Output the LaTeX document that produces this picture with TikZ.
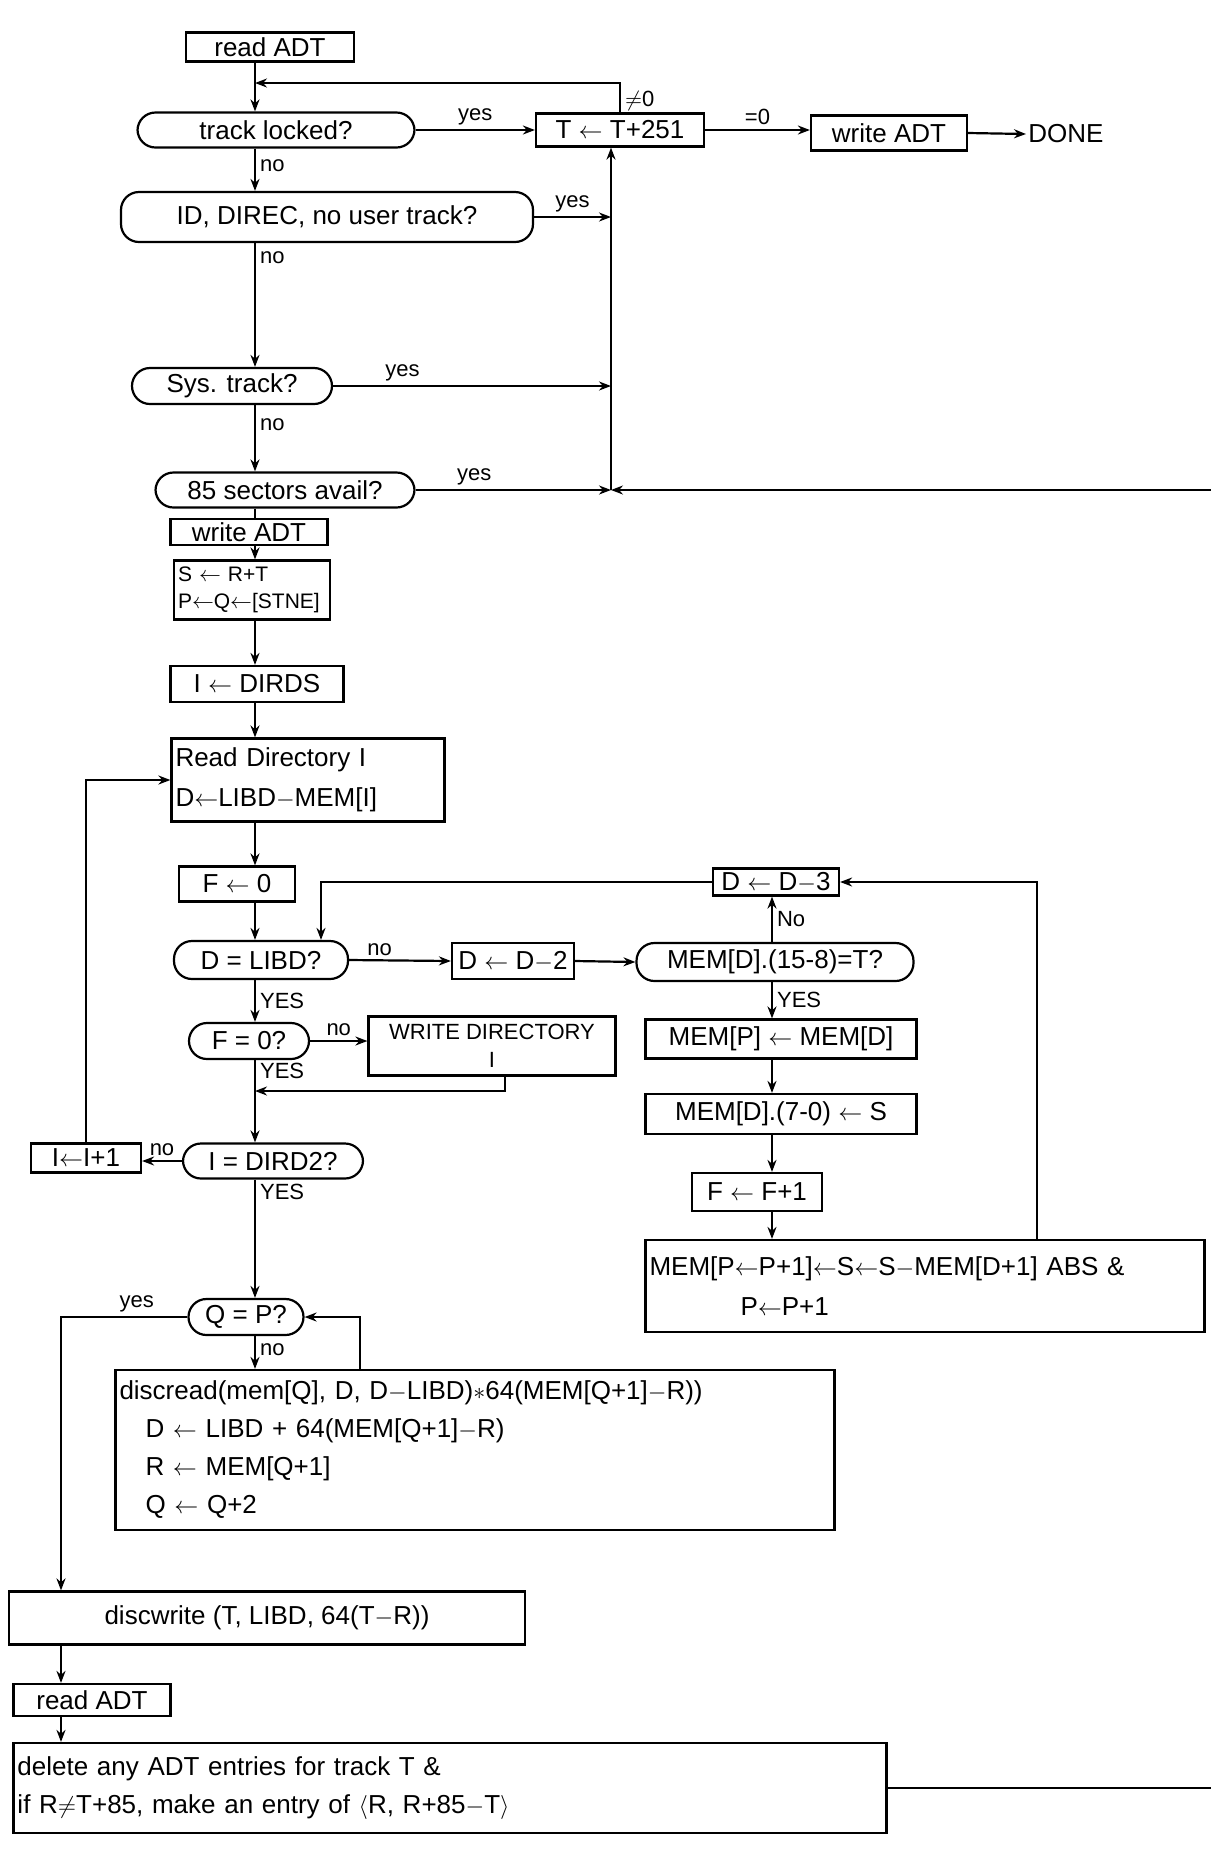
\documentclass[tikz,border=0pt]{standalone}
\usepackage{fontspec}
\setmainfont{Liberation Sans}
\usepackage{tikz}
\usetikzlibrary{arrows.meta}

\begin{document}
\begin{tikzpicture}[x=0.5pt, y=-0.5pt, font=\fontsize{13}{17}\selectfont,
box/.style={draw, line width=1.1pt, inner sep=1.5pt, minimum width=#1},
dec/.style={box=#1, rounded corners=9pt},
tbox/.style={box=#1, align=left, text width=#1-4pt},
lbl/.style={font=\fontsize{11}{13}\selectfont, inner sep=2pt},
conn/.style={-{Stealth[length=6pt]}, line width=1.1pt},
line/.style={line width=1.1pt}]
\useasboundingbox[fill=white] (0,0) rectangle (1211,1849);
\coordinate (c1) at (255,0);
\coordinate (c2) at (772,0);
\coordinate (c3) at (61,0);
\coordinate (rail) at (611,490);
\coordinate (rr) at (1037,0);
\coordinate (topjoin) at (255,83);
\coordinate (edge85) at (1211,490);
\coordinate (edgedel) at (1211,0);
\coordinate (fmerge) at (255,1091);
% upper part
\node[box=84pt, minimum height=14.5pt] (readadt) at (270,47) {read ADT};
\node[dec=138.5pt, minimum height=17.5pt] (trk) at (276,130) {track locked?};
\node[box=84pt, minimum height=16.5pt] (tinc) at (620,130) {T $\leftarrow$ T+251};
\node[box=78pt, minimum height=17.5pt] (wadt) at (889,133) {write ADT};
\node[inner sep=1pt] (done) at (1066,134) {DONE};
\node[dec=206pt, minimum height=25pt] (idq) at (327,217) {ID, DIREC, no user track?};
\node[dec=100pt, minimum height=18pt] (sysq) at (232,386) {Sys. track?};
\node[dec=129.5pt, minimum height=17.5pt] (secq) at (285,490) {85 sectors avail?};
\node[box=78.5pt, minimum height=13pt] (wadt2) at (249,532) {write ADT};
\node[tbox=78pt, minimum height=29.5pt, font=\fontsize{10.5}{13.5}\selectfont] (srt) at (252,590) {S $\leftarrow$ R+T\\P$\leftarrow$Q$\leftarrow$[STNE]};
\node[box=86.5pt, minimum height=18pt] (idirs) at (257,684) {I $\leftarrow$ DIRDS};
\node[tbox=136.5pt, minimum height=41.5pt] (rdir) at (308,780) {Read Directory I\\[3pt]D$\leftarrow$LIBD$-$MEM[I]};
% directory scan
\node[box=58pt, minimum height=17.5pt] (fzero) at (237,884) {F $\leftarrow$ 0};
\node[dec=87pt, minimum height=19pt] (dlibd) at (261,960) {D = LIBD?};
\node[box=61pt, minimum height=18pt] (dsub2) at (513,961) {D $\leftarrow$ D$-$2};
\node[dec=138.5pt, minimum height=19pt] (memq) at (775,962) {MEM[D].(15-8)=T?};
\node[box=63pt, minimum height=13.5pt] (dsub3) at (776,882) {D $\leftarrow$ D$-$3};
\node[box=135.5pt, minimum height=19.5pt] (mempd) at (781,1039) {MEM[P] $\leftarrow$ MEM[D]};
\node[box=135.5pt, minimum height=20pt] (memds) at (781,1114) {MEM[D].(7-0) $\leftarrow$ S};
\node[box=65pt, minimum height=19pt] (finc) at (757,1192) {F $\leftarrow$ F+1};
\node[tbox=279.5pt, minimum height=46pt] (memabs) at (925,1286) {MEM[P$\leftarrow$P+1]$\leftarrow$S$\leftarrow$S$-$MEM[D+1] ABS \&\\[3pt]\hspace{3.5em}P$\leftarrow$P+1};
\node[dec=60pt, minimum height=18pt] (fq) at (249,1041) {F = 0?};
\node[box=123.5pt, minimum height=29.5pt, align=center, font=\fontsize{11}{14}\selectfont] (wdir) at (492,1046) {WRITE DIRECTORY\\I};
\node[dec=90pt, minimum height=17.5pt] (idq2) at (273,1161) {I = DIRD2?};
\node[box=55pt, minimum height=14.5pt] (iinc) at (86,1158) {I$\leftarrow$I+1};
% read back and write
\node[dec=57.5pt, minimum height=18pt] (qp) at (246,1317) {Q = P?};
\node[tbox=359.5pt, minimum height=80pt, font=\fontsize{13}{19}\selectfont] (dread) at (475,1450) {discread(mem[Q], D, D$-$LIBD)$*$64(MEM[Q+1]$-$R))\\
\quad D $\leftarrow$ LIBD + 64(MEM[Q+1]$-$R)\\
\quad R $\leftarrow$ MEM[Q+1]\\
\quad Q $\leftarrow$ Q+2};
\node[box=258pt, minimum height=26.5pt] (dwr) at (267,1618) {discwrite (T, LIBD, 64(T$-$R))};
\node[box=78.5pt, minimum height=16pt] (radt) at (92,1700) {read ADT};
\node[tbox=436.5pt, minimum height=45pt] (del) at (450,1788) {delete any ADT entries for track T \&\\[2pt]if R$\neq$T+85, make an entry of $\langle$R, R+85$-$T$\rangle$};
% connectors, top
\draw[conn] (readadt.south -| c1) -- (trk.north -| c1);
\draw[conn] (tinc.north) |- node[lbl, pos=0.2, right] {$\neq$0} (topjoin);
\draw[conn] (trk.east) -- node[lbl, above] {yes} (tinc.west);
\draw[conn] (tinc.east) -- node[lbl, above] {=0} (wadt.west |- tinc.east);
\draw[conn] (wadt.east) -- (done.west);
\draw[conn] (trk.south -| c1) -- node[lbl, pos=0.4, right] {no} (idq.north -| c1);
\draw[conn] (idq.south -| c1) -- node[lbl, pos=0.12, right] {no} (sysq.north -| c1);
\draw[conn] (sysq.south -| c1) -- node[lbl, pos=0.3, right] {no} (secq.north -| c1);
\draw[conn] (idq.east) -- node[lbl, above] {yes} (idq.east -| rail);
\draw[conn] (sysq.east) -- node[lbl, pos=0.25, above] {yes} (sysq.east -| rail);
\draw[conn] (secq.east) -- node[lbl, pos=0.3, above] {yes} (rail);
\draw[conn, line width=0.8pt] (edge85) -- (rail);
\draw[conn] (rail) -- (rail |- tinc.south);
% connectors, directory
\draw[line] (secq.south -| c1) -- (wadt2.north -| c1);
\draw[conn] (wadt2.south -| c1) -- (srt.north -| c1);
\draw[conn] (srt.south -| c1) -- (idirs.north -| c1);
\draw[conn] (idirs.south -| c1) -- (rdir.north -| c1);
\draw[conn] (rdir.south -| c1) -- (fzero.north -| c1);
\draw[conn] (fzero.south -| c1) -- (dlibd.north -| c1);
\draw[conn] (dsub3.west) -| ([xshift=30pt]dlibd.north);
\draw[conn] (dlibd.east) -- node[lbl, pos=0.3, above] {no} (dsub2.west);
\draw[conn] (dsub2.east) -- (memq.west);
\draw[conn] (memq.north -| c2) -- node[lbl, right] {No} (dsub3.south -| c2);
\draw[conn] (memq.south -| c2) -- node[lbl, right] {YES} (mempd.north -| c2);
\draw[conn] (mempd.south -| c2) -- (memds.north -| c2);
\draw[conn] (memds.south -| c2) -- (finc.north -| c2);
\draw[conn] (finc.south -| c2) -- (memabs.north -| c2);
\draw[conn] (memabs.north -| rr) |- (dsub3.east);
\draw[conn] (dlibd.south -| c1) -- node[lbl, right] {YES} (fq.north -| c1);
\draw[conn] (fq.east) -- node[lbl, above] {no} (fq.east -| wdir.west);
\draw[line] (fq.south -| c1) -- node[lbl, pos=0.35, right] {YES} (fmerge);
\draw[conn] ([xshift=6.5pt]wdir.south) |- (fmerge);
\draw[conn] (fmerge) -- (idq2.north -| c1);
\draw[conn] (idq2.west) -- node[lbl, above] {no} (idq2.west -| iinc.east);
\draw[conn] (iinc.north) |- (rdir.west);
\draw[conn] (idq2.south -| c1) -- node[lbl, pos=0.1, right] {YES} (qp.north -| c1);
% connectors, bottom
\draw[conn] (qp.south -| c1) -- node[lbl, pos=0.4, right] {no} (dread.north -| c1);
\draw[conn] ([xshift=-57.5pt]dread.north) |- (qp.east);
\draw[conn] (qp.west) -| node[lbl, pos=0.2, above] {yes} (dwr.north -| c3);
\draw[conn] (dwr.south -| c3) -- (radt.north -| c3);
\draw[conn] (radt.south -| c3) -- (del.north -| c3);
\draw[line] (del.east) -- (del.east -| edgedel);
\end{tikzpicture}
\end{document}
